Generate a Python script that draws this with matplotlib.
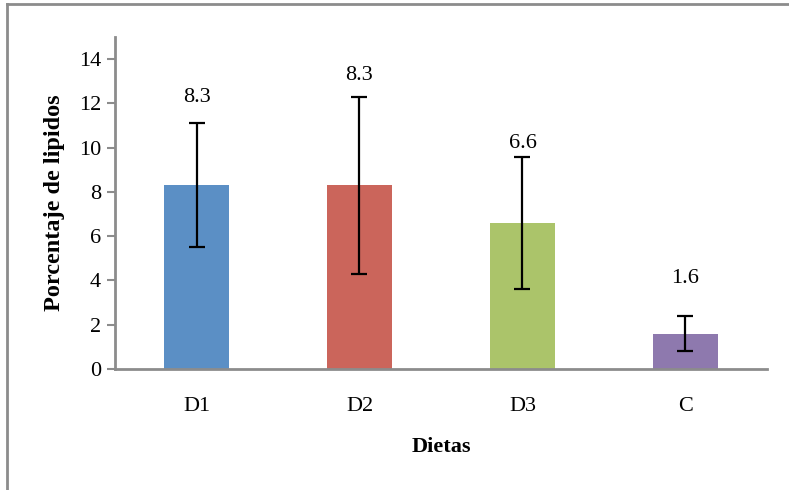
#Bar chart of lipid percentage per diet with error bars
import matplotlib
matplotlib.use("Agg")
import matplotlib.pyplot as plt
from matplotlib.lines import Line2D

diets = ["D1", "D2", "D3", "C"]
lipids = [8.3, 8.3, 6.6, 1.6]
errors = [2.8, 4.0, 3.0, 0.8]
value_labels = ["8.3", "8.3", "6.6", "1.6"]
label_y = [12.25, 13.25, 10.2, 4.1]
colors = ["#5B8FC5", "#CB655B", "#ABC46A", "#8E79AE"]
yticks = [0, 2, 4, 6, 8, 10, 12, 14]

plt.rcParams["font.family"] = ["Liberation Serif", "DejaVu Serif"]

fig = plt.figure(figsize=(7.89, 4.90), dpi=100)
ax = fig.add_axes([0.1458, 0.247, 0.8262, 0.6775])

x = range(len(diets))
ax.bar(x, lipids, width=0.4, color=colors, zorder=2)
ax.errorbar(x, lipids, yerr=errors, fmt="none", ecolor="black",
            elinewidth=1.6, capsize=6, capthick=1.6, zorder=3)
for i, (txt, yy) in enumerate(zip(value_labels, label_y)):
    ax.text(i, yy, txt, ha="center", va="center", fontsize=16)

ax.set_xlim(-0.5, 3.5)
ax.set_ylim(0, 15)
ax.set_yticks(yticks)
ax.set_xticks(list(x))
ax.set_xticklabels(diets)
ax.tick_params(axis="y", labelsize=16, length=6, width=1.5, color="#8C8C8C", pad=4)
ax.tick_params(axis="x", labelsize=16, length=0, pad=20)

for side in ["top", "right"]:
    ax.spines[side].set_visible(False)
for side in ["left", "bottom"]:
    ax.spines[side].set_color("#8C8C8C")
    ax.spines[side].set_linewidth(2)

ax.set_xlabel("Dietas", fontsize=16, fontweight="bold", labelpad=15)
ax.set_ylabel("Porcentaje de lipidos", fontsize=17.5, fontweight="bold", labelpad=10)

#Outer frame of the original screenshot (top and left edges only)
fig.add_artist(Line2D([7 / 789, 1], [1 - 4 / 490, 1 - 4 / 490], transform=fig.transFigure,
                      color="#8C8C8C", linewidth=2))
fig.add_artist(Line2D([7 / 789, 7 / 789], [0, 1 - 4 / 490], transform=fig.transFigure,
                      color="#8C8C8C", linewidth=2))

fig.savefig("out.png", dpi=100)
